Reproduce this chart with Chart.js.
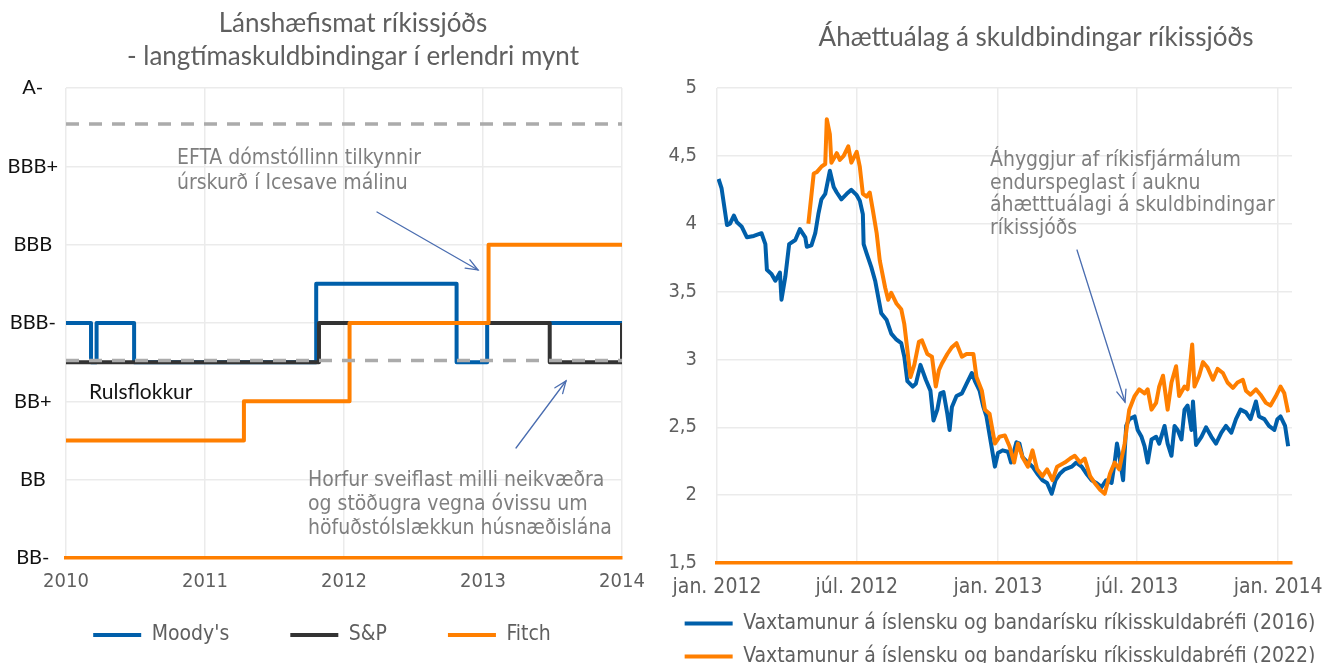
<!DOCTYPE html>
<html lang="is">
<head>
<meta charset="utf-8">
<title>Lánshæfismat og áhættuálag ríkissjóðs</title>
<script src="https://cdn.jsdelivr.net/npm/chart.js@4.4.1/dist/chart.umd.min.js"></script>
<style>
html,body{margin:0;padding:0;background:#fff;overflow:hidden;width:1336px;height:663px;}
#w1{position:absolute;left:0;top:0;width:657px;height:663px;}
#w2{position:absolute;left:650px;top:0;width:686px;height:690px;}
</style>
</head>
<body>
<div id="w1"><canvas id="c1"></canvas></div>
<div id="w2"><canvas id="c2"></canvas></div>
<script>
// ---------------- DATA: left chart (credit ratings) ----------------
const ratingLabels = ['BB-', 'BB', 'BB+', 'BBB-', 'BBB', 'BBB+', 'A-'];
const yearTicks = [2010, 2011, 2012, 2013, 2014];
const moodysX = [2010, 2010.18, 2010.22, 2010.49, 2011.80, 2012.81, 2013.03, 2014];
const moodysY = [3, 2.5, 3, 2.5, 3.5, 2.5, 3, 3];
const spX = [2010, 2011.82, 2013.48, 2014];
const spY = [2.5, 3, 2.5, 3];
const fitchX = [2010, 2011.28, 2012.04, 2013.04, 2014];
const fitchY = [1.5, 2, 3, 4, 4];
const junkLevel = 2.52;
const upperLevel = 5.54;
const ratingSeriesNames = ["Moody's", 'S&P', 'Fitch'];

const leftTitle = ['Lánshæfismat ríkissjóðs', '- langtímaskuldbindingar í erlendri mynt'];
const eftaNote = ['EFTA dómstóllinn tilkynnir', 'úrskurð í Icesave málinu'];
const junkNote = 'Rulsflokkur';
const outlookNote = ['Horfur sveiflast milli neikvæðra', 'og stöðugra vegna óvissu um', 'höfuðstólslækkun húsnæðislána'];

// ---------------- DATA: right chart (spreads) ----------------
const rightTitle = 'Áhættuálag á skuldbindingar ríkissjóðs';
const spreadNote = ['Áhyggjur af ríkisfjármálum', 'endurspeglast í auknu', 'áhætttuálagi á skuldbindingar', 'ríkissjóðs'];
const spreadSeriesNames = ['Vaxtamunur á íslensku og bandarísku ríkisskuldabréfi (2016)', 'Vaxtamunur á íslensku og bandarísku ríkisskuldabréfi (2022)'];
const xTickDates = ['2012-01-01', '2012-07-01', '2013-01-01', '2013-07-01', '2014-01-01'];
const xTickLabels = ['jan. 2012', 'júl. 2012', 'jan. 2013', 'júl. 2013', 'jan. 2014'];
const xStartDate = '2012-01-01';
const xEndDate = '2014-01-19';

const spread2016Dates = ['2012-01-03','2012-01-07','2012-01-14','2012-01-18','2012-01-23','2012-01-27','2012-02-02','2012-02-09','2012-02-18','2012-02-28','2012-03-04','2012-03-06','2012-03-12','2012-03-17','2012-03-23','2012-03-25','2012-03-30','2012-04-04','2012-04-12','2012-04-18','2012-04-25','2012-04-27','2012-05-03','2012-05-08','2012-05-12','2012-05-16','2012-05-21','2012-05-27','2012-06-01','2012-06-05','2012-06-11','2012-06-18','2012-06-24','2012-07-01','2012-07-05','2012-07-09','2012-07-10','2012-07-14','2012-07-20','2012-07-25','2012-08-02','2012-08-09','2012-08-15','2012-08-21','2012-08-28','2012-09-01','2012-09-05','2012-09-12','2012-09-16','2012-09-22','2012-09-29','2012-10-05','2012-10-09','2012-10-14','2012-10-18','2012-10-22','2012-10-27','2012-10-30','2012-11-02','2012-11-08','2012-11-15','2012-11-21','2012-11-28','2012-12-02','2012-12-08','2012-12-13','2012-12-17','2012-12-23','2012-12-28','2013-01-01','2013-01-07','2013-01-14','2013-01-18','2013-01-25','2013-01-29','2013-02-02','2013-02-09','2013-02-15','2013-02-21','2013-02-28','2013-03-06','2013-03-12','2013-03-17','2013-03-23','2013-03-29','2013-04-07','2013-04-13','2013-04-20','2013-04-26','2013-05-03','2013-05-09','2013-05-16','2013-05-22','2013-05-29','2013-06-02','2013-06-05','2013-06-08','2013-06-13','2013-06-17','2013-06-21','2013-06-28','2013-07-02','2013-07-07','2013-07-11','2013-07-15','2013-07-20','2013-07-26','2013-07-30','2013-08-06','2013-08-10','2013-08-15','2013-08-19','2013-08-23','2013-08-28','2013-09-01','2013-09-05','2013-09-10','2013-09-12','2013-09-16','2013-09-23','2013-09-29','2013-10-06','2013-10-12','2013-10-19','2013-10-25','2013-11-01','2013-11-07','2013-11-13','2013-11-20','2013-11-26','2013-12-03','2013-12-07','2013-12-14','2013-12-20','2013-12-27','2013-12-31','2014-01-04','2014-01-10','2014-01-14'];
const spread2016Values = [4.33,4.26,3.99,4.00,4.06,4.01, 3.98,3.90,3.91,3.93, 3.85,3.66,3.63,3.58,3.64,3.44,3.61, 3.85,3.88,3.96,3.90,3.83, 3.84,3.93,4.07,4.18,4.22,4.39, 4.27,4.23,4.18,4.22,4.25, 4.21,4.17,4.07,3.85,3.78,3.68,3.58, 3.34,3.29,3.19,3.15,3.12, 3.02,2.84,2.80,2.82,2.96,2.85, 2.77,2.55,2.63,2.75,2.76,2.60,2.48, 2.65,2.73,2.75,2.82,2.90, 2.84,2.77,2.65,2.58,2.38,2.21, 2.31,2.33,2.32,2.24,2.39,2.38, 2.28,2.24,2.21,2.16,2.11, 2.09,2.01,2.11,2.16,2.19, 2.21,2.24,2.21,2.16, 2.11,2.09,2.06,2.11,2.09, 2.24,2.38,2.29,2.11,2.51,2.56,2.58, 2.48,2.43,2.36,2.24,2.41,2.43,2.38, 2.51,2.38,2.29,2.51,2.48,2.41, 2.63,2.66,2.48,2.69,2.37,2.43,2.50, 2.43,2.38,2.46,2.51, 2.46,2.56,2.63,2.61,2.56, 2.69,2.58,2.56,2.51,2.48,2.56, 2.58,2.51,2.36];

const spread2022Dates = ['2012-04-29','2012-05-06','2012-05-10','2012-05-16','2012-05-21','2012-05-23','2012-05-27','2012-05-29','2012-06-05','2012-06-09','2012-06-14','2012-06-20','2012-06-24','2012-07-01','2012-07-05','2012-07-09','2012-07-14','2012-07-18','2012-07-22','2012-07-27','2012-07-31','2012-08-07','2012-08-11','2012-08-15','2012-08-22','2012-08-28','2012-09-01','2012-09-05','2012-09-09','2012-09-14','2012-09-20','2012-09-24','2012-10-01','2012-10-07','2012-10-12','2012-10-16','2012-10-20','2012-10-27','2012-11-02','2012-11-08','2012-11-15','2012-11-21','2012-11-30','2012-12-04','2012-12-11','2012-12-15','2012-12-21','2012-12-28','2013-01-03','2013-01-10','2013-01-16','2013-01-22','2013-01-27','2013-02-02','2013-02-09','2013-02-15','2013-02-21','2013-02-28','2013-03-06','2013-03-13','2013-03-19','2013-03-29','2013-04-05','2013-04-11','2013-04-18','2013-04-24','2013-05-01','2013-05-07','2013-05-14','2013-05-20','2013-05-27','2013-06-02','2013-06-08','2013-06-15','2013-06-21','2013-06-28','2013-07-04','2013-07-11','2013-07-15','2013-07-20','2013-07-26','2013-07-30','2013-08-04','2013-08-10','2013-08-15','2013-08-21','2013-08-25','2013-09-01','2013-09-05','2013-09-11','2013-09-14','2013-09-20','2013-09-25','2013-10-01','2013-10-08','2013-10-14','2013-10-21','2013-10-27','2013-11-03','2013-11-09','2013-11-16','2013-11-20','2013-11-26','2013-12-03','2013-12-09','2013-12-16','2013-12-22','2013-12-29','2014-01-04','2014-01-09','2014-01-14'];
const spread2022Values = [4.00, 4.37,4.38,4.42,4.44,4.77,4.66,4.45, 4.52,4.47,4.50,4.57,4.45, 4.53,4.42,4.22,4.20,4.23,4.10,3.93,3.73, 3.53,3.44,3.49,3.41,3.37, 3.26,3.07,2.87,2.96,3.13,3.14, 3.04,3.02,2.80,2.92,2.97,3.04, 3.09,3.12,3.02,3.04,3.04, 2.87,2.77,2.63,2.60,2.38, 2.43,2.44,2.36,2.24,2.38, 2.28,2.21,2.33,2.19,2.14, 2.19,2.11,2.21,2.24, 2.27,2.29,2.24,2.27, 2.14,2.09,2.04,2.01,2.16, 2.24,2.19,2.38,2.63,2.73, 2.78,2.75,2.78,2.63,2.68,2.80, 2.88,2.63,2.83,2.95,2.73, 2.80,2.78,3.11,2.80,2.88,2.98, 2.94,2.85,2.93,2.90,2.83, 2.79,2.83,2.85,2.77,2.74, 2.78,2.74,2.68,2.66,2.73, 2.80,2.75,2.61];

// ---------------- STYLE ----------------
const COND = "'DejaVu Sans Condensed', 'DejaVu Sans', sans-serif";
const CAL = "Lato, 'Open Sans', sans-serif";
const BLUE = '#005FAA', ORANGE = '#FF7F00', DARK = '#333333', DASH = '#ABABAB';
const GRID = '#EBEBEB', TXT = '#5F5F5F', NOTE = '#7F7F7F', ARROW = '#4A6DB0';

const toDay = s => (Date.parse(s) - Date.parse(xStartDate)) / 864e5;
const pts = (xs, ys) => xs.map((x, i) => ({x: x, y: ys[i]}));

// places the legend box (height / horizontal centre / top) after Chart.js layout
const legendPlace = {
  id: 'legendPlace',
  beforeLayout(c, a, o) {
    const lg = c.legend;
    if (lg && !lg._placed) {
      const fit = lg.fit;
      lg.fit = function () { fit.call(this); if (o.height !== undefined) this.height = o.height; };
      lg._placed = true;
    }
  },
  afterLayout(c, a, o) {
    const lg = c.legend; if (!lg) return;
    lg.left = o.center - o.halfWidth; lg.right = o.center + o.halfWidth; lg.width = 2 * o.halfWidth;
    if (o.top !== undefined) { lg.top = o.top; }
    lg.bottom = c.height + 40; lg.height = lg.bottom - lg.top;
  }
};

function drawArrow(ctx, x1, y1, x2, y2) {
  ctx.save();
  ctx.strokeStyle = ARROW; ctx.lineWidth = 1.3; ctx.lineCap = 'round';
  ctx.beginPath(); ctx.moveTo(x1, y1); ctx.lineTo(x2, y2); ctx.stroke();
  const a = Math.atan2(y2 - y1, x2 - x1), L = 13, w = 0.38;
  ctx.beginPath();
  ctx.moveTo(x2 - L * Math.cos(a - w), y2 - L * Math.sin(a - w));
  ctx.lineTo(x2, y2);
  ctx.lineTo(x2 - L * Math.cos(a + w), y2 - L * Math.sin(a + w));
  ctx.stroke();
  ctx.restore();
}

const notesLeft = {
  id: 'notesLeft',
  afterDraw(c) {
    const ctx = c.ctx;
    ctx.save();
    ctx.fillStyle = TXT; ctx.font = '26px ' + CAL; ctx.textAlign = 'center'; ctx.textBaseline = 'middle';
    ctx.fillText(leftTitle[0], 353, 24);
    ctx.fillText(leftTitle[1], 353, 57);
    ctx.textAlign = 'left';
    ctx.font = '21px ' + CAL; ctx.fillStyle = '#141414';
    ctx.fillText(junkNote, 89, 392);
    ctx.font = '21px ' + COND; ctx.fillStyle = NOTE;
    eftaNote.forEach((t, i) => ctx.fillText(t, 177, 159 + i * 25));
    outlookNote.forEach((t, i) => ctx.fillText(t, 308, 481 + i * 24));
    ctx.restore();
    drawArrow(ctx, 377, 212, 478, 270);
    drawArrow(ctx, 516, 448, 566, 381);
  }
};

const notesRight = {
  id: 'notesRight',
  afterDraw(c) {
    const ctx = c.ctx;
    ctx.save();
    ctx.fillStyle = TXT; ctx.font = '26px ' + CAL; ctx.textAlign = 'center'; ctx.textBaseline = 'middle';
    ctx.fillText(rightTitle, 386, 38);
    ctx.textAlign = 'left';
    ctx.font = '21px ' + COND; ctx.fillStyle = NOTE;
    spreadNote.forEach((t, i) => ctx.fillText(t, 340, 161 + i * 22.5));
    ctx.restore();
    drawArrow(ctx, 427, 250, 475, 402);
  }
};

const lineDs = (label, data, color, order, extra) => Object.assign({
  label: label, data: data, borderColor: color, backgroundColor: color,
  borderWidth: 4, pointRadius: 0, pointHoverRadius: 0, tension: 0, fill: false, order: order,
  borderJoinStyle: 'round'
}, extra || {});

// ---------------- LEFT CHART ----------------
new Chart(document.getElementById('c1'), {
  type: 'line',
  data: {
    datasets: [
      lineDs(ratingSeriesNames[0], pts(moodysX, moodysY), BLUE, 3, {stepped: true}),
      lineDs(ratingSeriesNames[1], pts(spX, spY), DARK, 2, {stepped: true}),
      lineDs(ratingSeriesNames[2], pts(fitchX, fitchY), ORANGE, 1, {stepped: true}),
      lineDs('junk', pts([yearTicks[0], yearTicks[4]], [junkLevel, junkLevel]), DASH, 0, {borderDash: [13, 10], borderWidth: 3.5}),
      lineDs('upper', pts([yearTicks[0], yearTicks[4]], [upperLevel, upperLevel]), DASH, 0, {borderDash: [13, 10], borderWidth: 3.5})
    ]
  },
  options: {
    responsive: true, maintainAspectRatio: false, animation: false,
    layout: {padding: {top: 88, left: 0, right: 35, bottom: 0}},
    scales: {
      x: {
        type: 'linear', min: 2010, max: 2014,
        afterBuildTicks: s => { s.ticks = yearTicks.map(v => ({value: v})); },
        afterFit: s => { s.height = 36; },
        ticks: {color: TXT, font: {family: COND, size: 20}, padding: 12, maxRotation: 0, autoSkip: false, callback: v => String(v)},
        grid: {color: GRID, lineWidth: 1.5, drawTicks: false},
        border: {color: ORANGE, width: 3.5}
      },
      y: {
        min: 0, max: 6,
        afterBuildTicks: s => { s.ticks = ratingLabels.map((l, i) => ({value: i})); },
        afterFit: s => { s.width = 66; },
        ticks: {color: '#111', font: {family: CAL, size: 20}, crossAlign: 'center', padding: 8, autoSkip: false, callback: v => ratingLabels[v]},
        grid: {color: GRID, lineWidth: 1.5, drawTicks: false},
        border: {display: false}
      }
    },
    plugins: {
      legendPlace: {height: 69, center: 322, halfWidth: 320, top: 563.5},
      tooltip: {enabled: false},
      title: {display: false},
      legend: {
        position: 'bottom',
        labels: {
          usePointStyle: true, pointStyle: 'line', pointStyleWidth: 48,
          color: TXT, font: {family: COND, size: 21}, padding: 61,
          filter: item => item.datasetIndex < 3,
          sort: (a, b) => a.datasetIndex - b.datasetIndex
        }
      }
    }
  },
  plugins: [legendPlace, notesLeft]
});

// ---------------- RIGHT CHART ----------------
new Chart(document.getElementById('c2'), {
  type: 'line',
  data: {
    datasets: [
      lineDs(spreadSeriesNames[0], pts(spread2016Dates.map(toDay), spread2016Values), BLUE, 1),
      lineDs(spreadSeriesNames[1], pts(spread2022Dates.map(toDay), spread2022Values), ORANGE, 0)
    ]
  },
  options: {
    responsive: true, maintainAspectRatio: false, animation: false,
    layout: {padding: {top: 88, left: 0, right: 44, bottom: 13}},
    scales: {
      x: {
        type: 'linear', min: 0, max: toDay(xEndDate),
        afterBuildTicks: s => { s.ticks = xTickDates.map(d => ({value: toDay(d)})); },
        afterFit: s => { s.height = 38; },
        ticks: {color: TXT, font: {family: COND, size: 21}, padding: 12, maxRotation: 0, autoSkip: false, callback: (v, i) => xTickLabels[i]},
        grid: {color: GRID, lineWidth: 1.5, drawTicks: false},
        border: {color: ORANGE, width: 3.5}
      },
      y: {
        min: 1.5, max: 5,
        ticks: {stepSize: 0.5, color: TXT, font: {family: COND, size: 20}, padding: 20, crossAlign: 'near', callback: v => String(v).replace('.', ',')},
        afterFit: s => { s.width = 67; },
        grid: {color: GRID, lineWidth: 1.5, drawTicks: false},
        border: {display: false}
      }
    },
    plugins: {
      legendPlace: {height: 76, center: 350, halfWidth: 400, top: 601},
      tooltip: {enabled: false},
      title: {display: false},
      legend: {
        position: 'bottom',
        labels: {
          usePointStyle: true, pointStyle: 'line', pointStyleWidth: 48,
          color: TXT, font: {family: COND, size: 21}, padding: 12,
          sort: (a, b) => a.datasetIndex - b.datasetIndex
        }
      }
    }
  },
  plugins: [legendPlace, notesRight]
});
</script>
</body>
</html>
